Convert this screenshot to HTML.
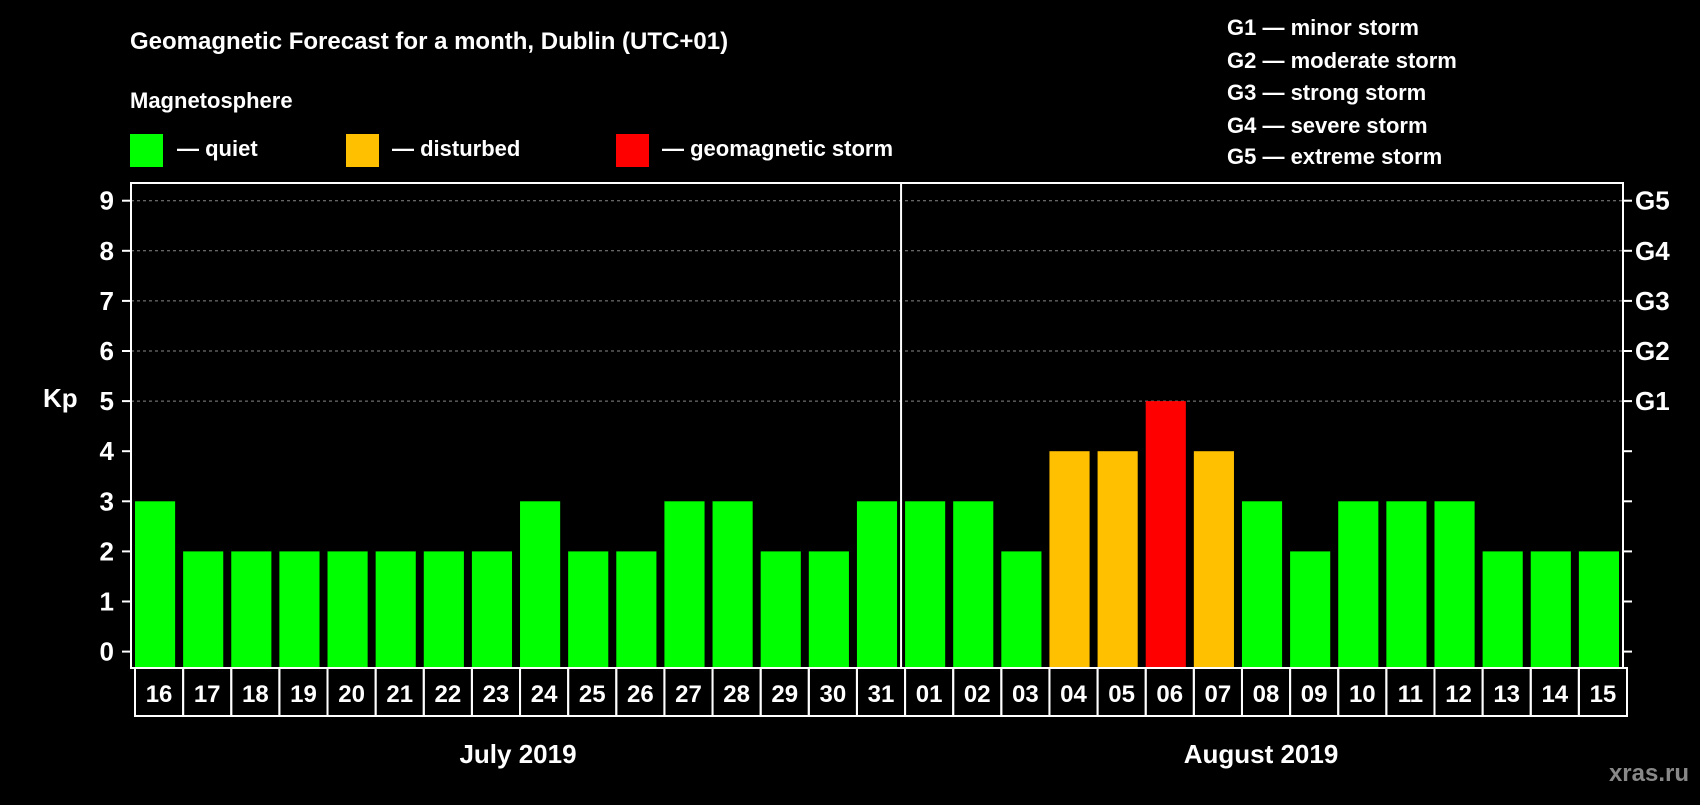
<!DOCTYPE html>
<html><head><meta charset="utf-8"><style>
body{margin:0;background:#000;width:1700px;height:800px;overflow:hidden;font-family:"Liberation Sans",sans-serif}
svg text{font-family:"Liberation Sans",sans-serif;font-weight:bold;fill:#fff}
</style></head><body>
<svg id="c" width="1700" height="800">
<text x="130" y="49" font-size="24">Geomagnetic Forecast for a month, Dublin (UTC+01)</text>
<text x="130" y="108" font-size="22">Magnetosphere</text>
<rect x="130" y="134" width="33" height="33" fill="#00ff00"/>
<text x="177" y="156" font-size="22">— quiet</text>
<rect x="346" y="134" width="33" height="33" fill="#ffc000"/>
<text x="392" y="156" font-size="22">— disturbed</text>
<rect x="616" y="134" width="33" height="33" fill="#ff0000"/>
<text x="662" y="156" font-size="22">— geomagnetic storm</text>
<g font-size="22">
<text x="1227" y="35">G1 — minor storm</text>
<text x="1227" y="68">G2 — moderate storm</text>
<text x="1227" y="100">G3 — strong storm</text>
<text x="1227" y="133">G4 — severe storm</text>
<text x="1227" y="164">G5 — extreme storm</text>
</g>
<text x="43" y="407" font-size="26">Kp</text>
<text x="518" y="763" font-size="26" text-anchor="middle">July 2019</text>
<text x="1261" y="763" font-size="26" text-anchor="middle">August 2019</text>
<text x="1689" y="781" font-size="24" text-anchor="end" style="fill:#888">xras.ru</text>
<g id="plot"></g>
</svg>
<script>
const days=["16","17","18","19","20","21","22","23","24","25","26","27","28","29","30","31","01","02","03","04","05","06","07","08","09","10","11","12","13","14","15"];
const kp=[3,2,2,2,2,2,2,2,3,2,2,3,3,2,2,3,3,3,2,4,4,5,4,3,2,3,3,3,2,2,2];
const yTicks=[0,1,2,3,4,5,6,7,8,9];
const gLabels=["","","","","","G1","G2","G3","G4","G5"];
const L=131,R=1623,T=183,B=668;
const slot=(R-L)/days.length;
const y=v=>651.6-v*50.1;
const x=i=>L+i*slot;
const g=document.getElementById('plot');
const NS="http://www.w3.org/2000/svg";
function mk(t,a){const e=document.createElementNS(NS,t);for(const k in a)e.setAttribute(k,a[k]);g.appendChild(e);return e;}
yTicks.forEach((v,i)=>{
 if(v>=5){const l=mk('line',{x1:L,x2:R,y1:y(v),y2:y(v),stroke:'#888','stroke-dasharray':'3,3','stroke-width':1});
 
 }
 const t1=mk('line',{x1:L-9,x2:L,y1:y(v),y2:y(v),stroke:'#fff','stroke-width':2});
 
 
 const t2=mk('line',{x1:R,x2:R+9,y1:y(v),y2:y(v),stroke:'#fff','stroke-width':2});
 
 
 const lb=mk('text',{x:114,y:y(v)+9,'font-size':26,'text-anchor':'end'});lb.textContent=v;
 
 
 if(gLabels[i]){const gl=mk('text',{x:1635,y:y(v)+9,'font-size':26});gl.textContent=gLabels[i];
 
 }
});
kp.forEach((v,i)=>{
 const c=v>=5?'#ff0000':v>=4?'#ffc000':'#00ff00';
 const b=mk('rect',{x:x(i)+4,y:y(v),width:slot-8,height:y(0)-y(v)+16,fill:c});
 
 
 const cell=mk('rect',{x:x(i)+4,y:B,width:slot,height:48,fill:'none',stroke:'#fff','stroke-width':2});
 
 
 const t=mk('text',{x:x(i)+4+slot/2,y:B+34,'font-size':24,'text-anchor':'middle'});t.textContent=days[i];
 
 
});
const f=mk('rect',{x:L,y:T,width:R-L,height:B-T,fill:'none',stroke:'#fff','stroke-width':2});


const d=mk('line',{x1:x(16),x2:x(16),y1:T,y2:B,stroke:'#fff','stroke-width':2});


</script>
</body></html>
